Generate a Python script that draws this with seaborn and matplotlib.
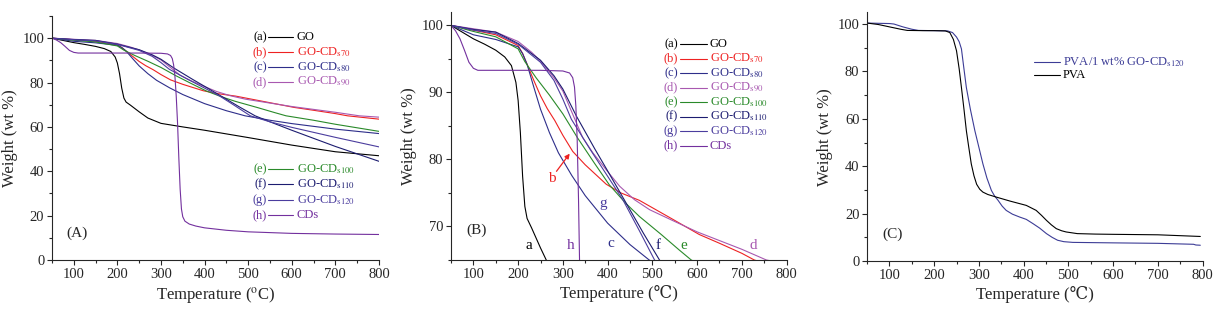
import numpy as np
import pandas as pd
import seaborn as sns
import matplotlib.pyplot as plt
from matplotlib.ticker import MultipleLocator

# ---- data ----
T_go = [50, 75, 100, 125, 150, 170, 185, 195, 200, 205, 210, 215, 220, 230, 250, 270, 300, 350, 400, 500, 600, 700, 800]
W_go = [100, 99, 98, 97.2, 96.3, 95.3, 94, 91.5, 88.8, 84, 77.5, 73, 71.2, 69.8, 66.8, 64, 61.6, 60, 58.5, 55.2, 51.8, 48.8, 47]

T_b = [50, 100, 150, 200, 210, 220, 235, 250, 265, 282, 300, 322, 350, 397, 430, 471, 545, 605, 650, 700, 728, 800]
W_b = [100, 99.3, 98.6, 97, 95.8, 94.2, 91.8, 89.5, 87.6, 85.8, 83.6, 81.2, 79.2, 76.3, 75, 73.9, 71.1, 68.8, 67.5, 66, 65, 63.5]

T_c = [50, 100, 150, 200, 210, 220, 235, 250, 270, 290, 320, 350, 400, 450, 493, 550, 600, 700, 800]
W_c = [100, 98.6, 97.9, 96.8, 95.8, 94.2, 90.8, 87.5, 84, 81, 77.6, 74.6, 70.5, 67.3, 65, 63, 61.5, 59, 57]

T_d = [50, 100, 150, 200, 230, 250, 280, 300, 330, 344, 367, 400, 427, 460, 494, 545, 600, 650, 700, 755, 800]
W_d = [100, 99.5, 99, 97.6, 96, 94.7, 92.2, 90.2, 85.5, 83.3, 81, 78.2, 76, 74, 72.5, 70.9, 69.2, 67.9, 66.6, 65, 64.4]

T_e = [50, 100, 150, 200, 215, 240, 270, 300, 333, 370, 404, 440, 471, 520, 560, 587, 650, 700, 800]
W_e = [100, 99.1, 98.3, 96.5, 94.6, 92.2, 89.6, 86.8, 83.2, 79.5, 76.2, 73.5, 71.5, 68.8, 66.5, 65, 63, 61.2, 58]

T_f = [50, 100, 150, 200, 250, 280, 300, 330, 372, 400, 450, 480, 516, 550, 600, 700, 800]
W_f = [100, 99.4, 99, 97.3, 94.8, 92.5, 90.5, 86.5, 81.5, 78.3, 72.5, 69, 65, 62.3, 58.5, 51.2, 44.5]

T_g = [50, 100, 150, 200, 250, 280, 300, 319, 361, 400, 434, 470, 505, 550, 600, 700, 800]
W_g = [100, 99.3, 98.8, 97.2, 94.5, 91.8, 89, 86, 81.5, 77.5, 74, 69.5, 65, 62.3, 59.8, 55.3, 51]

T_cd = [50, 60, 70, 80, 90, 100, 110, 150, 200, 250, 300, 315, 322, 326, 329, 332, 335, 338, 341, 344, 347, 350,
        355, 365, 380, 400, 450, 500, 600, 700, 800]
W_cd = [100, 99.2, 98, 96.3, 94.5, 93.6, 93.3, 93.3, 93.3, 93.3, 93.2, 92.9, 92.2, 90.8, 88, 83, 74, 62, 46, 32, 23, 19.5,
        17.5, 16.2, 15.3, 14.5, 13.4, 12.7, 12, 11.7, 11.5]

T_pva = [50, 75, 100, 125, 140, 175, 200, 225, 235, 243, 250, 256, 261, 267, 272, 277, 283, 289, 295, 302, 309, 320,
         339, 370, 406, 428, 440, 451, 462, 473, 485, 495, 520, 560, 600, 700, 795]
W_pva = [100.4, 99.8, 98.8, 97.8, 97.3, 97.2, 97.2, 97.1, 96.4, 93.5, 88.7, 81, 73.2, 63.5, 55, 48.5, 41, 36, 32.4, 30.3,
         29.1, 28.1, 27, 25.3, 23.5, 21.4, 19.3, 17.2, 15.3, 13.7, 12.8, 12.3, 11.6, 11.4, 11.3, 11.1, 10.4]

T_pvc = [50, 100, 110, 130, 150, 165, 200, 230, 241, 250, 256, 261, 266, 272, 281, 291, 300, 309, 318, 328, 335, 343,
         352, 361, 375, 391, 406, 421, 436, 451, 464, 476, 490, 510, 600, 700, 780, 785, 795]
W_pvc = [100.4, 100.2, 100, 98.8, 97.8, 97.3, 97.2, 97.1, 96.4, 94.5, 92.5, 89.5, 82, 73.2, 64, 55, 48, 41, 35, 29.8,
         27.5, 25.6, 23.2, 21.4, 19.8, 18.6, 17.6, 15.8, 13.9, 11.6, 10, 8.8, 8.2, 7.9, 7.7, 7.5, 7.1, 6.8, 6.7]

keys = ["a", "b", "c", "d", "e", "f", "g", "h"]
names = ["GO", r"GO-CD$_{\rm s70}$", r"GO-CD$_{\rm s80}$", r"GO-CD$_{\rm s90}$",
         r"GO-CD$_{\rm s100}$", r"GO-CD$_{\rm s110}$", r"GO-CD$_{\rm s120}$", "CDs"]
colors = ["#000000", "#ee2222", "#2e2e8a", "#a858b0", "#2a8a2a", "#1c1c70", "#4b3d9e", "#73309e"]
series = [(T_go, W_go), (T_b, W_b), (T_c, W_c), (T_d, W_d), (T_e, W_e), (T_f, W_f), (T_g, W_g), (T_cd, W_cd)]

sns.set_theme(style="ticks")
plt.rcParams["font.family"] = ["Liberation Serif", "DejaVu Serif", "DejaVu Sans"]
plt.rcParams["mathtext.fontset"] = "stix"

fig = plt.figure(figsize=(12.2, 3.2), dpi=100)
axA = fig.add_axes([0.0426, 0.1875, 0.268, 0.7625])
axB = fig.add_axes([0.3697, 0.1875, 0.275, 0.775])
axC = fig.add_axes([0.7107, 0.184, 0.275, 0.778])


def style(ax, ymaj, ymin):
    sns.despine(ax=ax)
    ax.set_xlim(50, 800)
    ax.xaxis.set_major_locator(MultipleLocator(100))
    ax.xaxis.set_minor_locator(MultipleLocator(50))
    ax.yaxis.set_major_locator(MultipleLocator(ymaj))
    ax.yaxis.set_minor_locator(MultipleLocator(ymin))
    ax.tick_params(which="major", direction="out", length=3.5, width=0.8, labelsize=10.5, pad=2)
    ax.tick_params(which="minor", direction="out", length=2, width=0.8)
    for s in ["left", "bottom"]:
        ax.spines[s].set_linewidth(0.8)
    ax.set_ylabel("Weight (wt %)", fontsize=12, labelpad=3)


# ---- (A) ----
for (T, W), c in zip(series, colors):
    sns.lineplot(x=T, y=W, ax=axA, color=c, lw=0.8, sort=False, estimator=None)
style(axA, 20, 10)
axA.set_ylim(0, 110)
axA.set_xlabel(r"Temperature ($^{\rm o}$C)", fontsize=12, labelpad=3)
axA.text(107, 12, "(A)", fontsize=11, ha="center", va="center")

ypos = [0.914, 0.852, 0.791, 0.730, 0.373, 0.311, 0.246, 0.184]
for k, n, c, y in zip(keys, names, colors, ypos):
    axA.text(0.657, y, f"({k})", color=c, fontsize=9, ha="right", va="center", transform=axA.transAxes)
    axA.plot([0.66, 0.737], [y, y], color=c, lw=0.8, transform=axA.transAxes)
    axA.text(0.749, y, n, color=c, fontsize=9, ha="left", va="center", transform=axA.transAxes)

# ---- (B) ----
for (T, W), c in zip(series, colors):
    sns.lineplot(x=T, y=W, ax=axB, color=c, lw=0.8, sort=False, estimator=None)
style(axB, 10, 5)
axB.set_ylim(65, 102)
axB.set_xlabel("Temperature (\u2103)", fontsize=12, labelpad=3)
axB.text(106, 69.5, "(B)", fontsize=11, ha="center", va="center")

for i, (k, n, c) in enumerate(zip(keys, names, colors)):
    y = 0.871 - i * 0.0585
    axB.text(0.676, y, f"({k})", color=c, fontsize=9, ha="right", va="center", transform=axB.transAxes)
    axB.plot([0.682, 0.762], [y, y], color=c, lw=0.8, transform=axB.transAxes)
    axB.text(0.771, y, n, color=c, fontsize=9, ha="left", va="center", transform=axB.transAxes)

letter_x = [224, 275, 408, 725, 571, 513, 391, 317]
letter_y = [67.1, 77.2, 67.4, 67.2, 67.2, 67.2, 73.5, 67.2]
for k, c, x, y in zip(keys, colors, letter_x, letter_y):
    axB.text(x, y, k, color=c, fontsize=11, ha="center", va="center")
axB.annotate("", xy=(319, 81.2), xytext=(282, 77.9),
             arrowprops=dict(arrowstyle="-|>", color=colors[1], lw=0.9, mutation_scale=7))

# ---- (C) ----
sns.lineplot(x=T_pvc, y=W_pvc, ax=axC, color="#3c3c96", lw=0.8, sort=False, estimator=None)
sns.lineplot(x=T_pva, y=W_pva, ax=axC, color="#000000", lw=0.8, sort=False, estimator=None)
style(axC, 20, 10)
axC.set_ylim(0, 105)
axC.set_xlabel("Temperature (\u2103)", fontsize=12, labelpad=3)
axC.text(108, 11.3, "(C)", fontsize=11, ha="center", va="center")
for lab, c, y in [(r"PVA/1 wt% GO-CD$_{\rm s120}$", "#3c3c96", 0.80), ("PVA", "#000000", 0.746)]:
    axC.plot([0.497, 0.574], [y, y], color=c, lw=0.8, transform=axC.transAxes)
    axC.text(0.583, y, lab, color=c, fontsize=9, ha="left", va="center", transform=axC.transAxes)

fig.savefig("out.png", dpi=100)
